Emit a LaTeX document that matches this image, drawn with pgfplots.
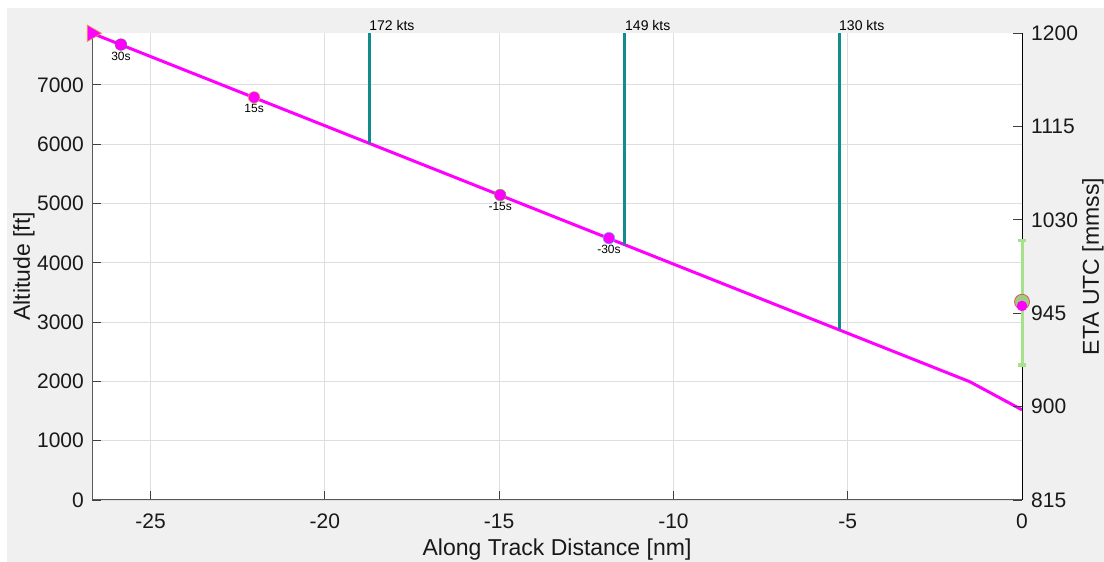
\documentclass[border=0pt]{standalone}
\usepackage{fontspec}
\setmainfont{Liberation Sans}
\usepackage{pgfplots}
\pgfplotsset{compat=1.18}
\definecolor{figbg}{HTML}{F0F0F0}
\definecolor{mag}{HTML}{FF00FF}
\definecolor{tealline}{RGB}{16,140,140}
\definecolor{errgreen}{RGB}{166,226,140}
\definecolor{circfill}{RGB}{160,204,128}
\definecolor{circedge}{RGB}{204,96,96}
\definecolor{edgeorange}{RGB}{237,150,60}
\definecolor{edgepurple}{RGB}{150,60,170}
\definecolor{edgeyellow}{RGB}{237,177,32}
\definecolor{edgegreen}{RGB}{119,172,48}
\definecolor{edgeblue}{RGB}{77,190,238}
\pgfplotsset{
  dotlabel/.style={only marks, mark=*, mark size=5.8bp,
    nodes near coords, point meta=explicit symbolic,
    nodes near coords align={below},
    every node near coord/.append style={yshift=-7bp, inner sep=0pt, black,
      font=\fontsize{12bp}{14bp}\selectfont}},
  ktslabel/.style={draw=none, mark=none,
    nodes near coords, point meta=explicit symbolic,
    nodes near coords align={anchor=base west},
    every node near coord/.append style={anchor=base west, yshift=2bp, inner sep=0pt, black,
      font=\fontsize{14bp}{16bp}\selectfont}},
}
\begin{document}
\begin{tikzpicture}[x=1bp,y=1bp]
\path[use as bounding box] (0,0) rectangle (1104,562);
\fill[white] (0,0) rectangle (1104,562);
\fill[figbg] (7,0) rectangle (1104,554);

\begin{axis}[
  at={(92bp,62bp)}, anchor=south west,
  scale only axis, width=930bp, height=467bp,
  xmin=-26.68, xmax=0, ymin=0, ymax=7875,
  axis background/.style={fill=white},
  axis x line*=bottom, axis y line*=left,
  axis line style={black!65, line width=1bp},
  xtick={-25,-20,-15,-10,-5,0}, ytick={0,1000,2000,3000,4000,5000,6000,7000},
  grid=major, major grid style={black!13, line width=0.8bp},
  tick align=inside, major tick length=9bp,
  tick style={black!75, line width=0.8bp},
  /pgf/number format/assume math mode=true,
  /pgf/number format/1000 sep={},
  scaled y ticks=false, scaled x ticks=false,
  ticklabel style={font=\fontsize{21bp}{25bp}\selectfont, inner sep=0pt, black!90},
  xticklabel shift=14bp, yticklabel shift=8bp,
  xlabel={Along Track Distance [nm]}, ylabel={Altitude [ft]},
  label style={font=\fontsize{23bp}{27bp}\selectfont, inner sep=0pt, black!90},
  xlabel style={at={(axis description cs:0.5,-0.0835)}, anchor=north},
  ylabel style={at={(axis description cs:-0.0849,0.5)}, anchor=north},
  clip=false,
]
\addplot[mag, line width=3bp, line join=round] coordinates {(-26.68,7870) (-1.5,1995) (0,1520)};
\addplot[tealline, line width=3bp] coordinates {(-18.73,6018) (-18.73,7875)};
\addplot[tealline, line width=3bp] coordinates {(-11.39,4307) (-11.39,7875)};
\addplot[tealline, line width=3bp] coordinates {(-5.25,2877) (-5.25,7875)};
\addplot[ktslabel] coordinates {(-18.73,7875) [172 kts] (-11.39,7875) [149 kts] (-5.25,7875) [130 kts]};
\addplot[dotlabel, mark options={fill=mag, draw=edgepurple, line width=0.5bp}] coordinates {(-25.85,7680) [30s]};
\addplot[dotlabel, mark options={fill=mag, draw=edgeyellow, line width=0.5bp}] coordinates {(-22.03,6790) [15s]};
\addplot[dotlabel, mark options={fill=mag, draw=edgegreen, line width=0.5bp}] coordinates {(-14.97,5143) [-15s]};
\addplot[dotlabel, mark options={fill=mag, draw=edgeblue, line width=0.5bp}] coordinates {(-11.85,4416) [-30s]};
\addplot[only marks, mark=triangle*, mark size=9.5bp, mark options={rotate=-90, fill=mag, draw=edgeorange, line width=0.6bp}] coordinates {(-26.68,7870)};
\end{axis}

\begin{axis}[
  at={(92bp,62bp)}, anchor=south west,
  scale only axis, width=930bp, height=467bp,
  xmin=-26.68, xmax=0, ymin=495, ymax=720,
  axis x line=none, axis y line*=right,
  axis line style={black, line width=1bp},
  ytick={495,540,585,630,675,720},
  yticklabels={815,900,945,1030,1115,1200},
  tick align=inside, major tick length=9bp,
  tick style={black!75, line width=0.8bp},
  ticklabel style={font=\fontsize{21bp}{25bp}\selectfont, inner sep=0pt, black!90},
  yticklabel shift=9bp,
  ylabel={ETA UTC [mmss]},
  label style={font=\fontsize{23bp}{27bp}\selectfont, inner sep=0pt, black!90},
  ylabel style={at={(axis description cs:1.0645,0.5)}, anchor=north},
  clip=false,
]
\addplot[errgreen, line width=3bp, mark=none,
  error bars/.cd, y dir=both, y explicit,
  error bar style={errgreen, line width=3bp},
  error mark=-,
  error mark options={rotate=90, errgreen, line width=3.5bp, mark size=4bp}]
  coordinates {(0,590) +- (0,30)};
\addplot[only marks, mark=*, mark size=7.5bp, mark options={fill=circfill, draw=circedge, line width=0.8bp}] coordinates {(0,590.5)};
\addplot[only marks, mark=*, mark size=5bp, mark options={fill=mag, draw=mag}] coordinates {(0,588.5)};
\end{axis}
\end{tikzpicture}
\end{document}
